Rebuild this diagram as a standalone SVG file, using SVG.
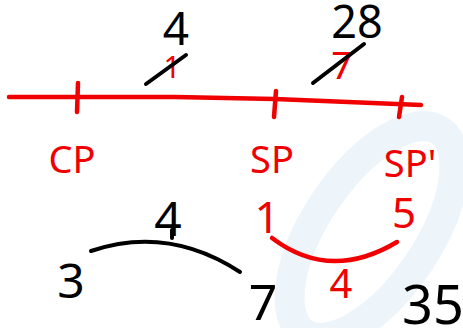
<svg xmlns="http://www.w3.org/2000/svg" width="463" height="328" viewBox="0 0 463 328">
<style>
.red{fill:#f00000;font-family:"Noto Sans","DejaVu Sans",sans-serif;}
.blk{fill:#000;font-family:"Noto Sans","DejaVu Sans",sans-serif;}
.rl{stroke:#f00000;stroke-width:4.5;fill:none;stroke-linecap:round;stroke-linejoin:round;}
.bl{stroke:#000;stroke-width:4;fill:none;stroke-linecap:round;stroke-linejoin:round;}
</style>
<rect width="463" height="328" fill="#fff"/>
<g id="watermark">
<ellipse cx="372" cy="232" rx="122" ry="56" transform="rotate(-56 372 232)" fill="none" stroke="#edf4fa" stroke-width="30"/>
</g>
<g id="numberline">
<path class="rl" d="M9 97 L175 97 L275 99 L421 105"/>
<path class="rl" d="M78 83 L77 112"/>
<path class="rl" d="M276 91 L274 117"/>
<path class="rl" d="M402 97 L399 117"/>
</g>
<g id="top-left">
<text class="red" x="172" y="78" font-size="30" text-anchor="middle">1</text>
<path class="bl" d="M146 84 L186 55"/>
<text class="blk" x="176" y="45" font-size="46" text-anchor="middle">4</text>
</g>
<g id="top-right">
<text class="red" x="342" y="79" font-size="38" text-anchor="middle">7</text>
<path class="bl" d="M313 83 L364 44"/>
<text class="blk" x="357" y="38" font-size="45" text-anchor="middle">28</text>
</g>
<g id="labels">
<text class="red" x="72" y="173" font-size="38" text-anchor="middle">CP</text>
<text class="red" x="272" y="173" font-size="38" text-anchor="middle">SP</text>
<text class="red" x="410" y="177" font-size="38" text-anchor="middle">SP'</text>
</g>
<g id="left-group">
<path class="bl" d="M91 251 Q168 225 240 272"/>
<path class="bl" d="M172 238 L172 230"/>
<text class="blk" x="168" y="236" font-size="48" text-anchor="middle">4</text>
<text class="blk" x="71" y="298" font-size="48" text-anchor="middle">3</text>
<text class="blk" x="263" y="320" font-size="50" text-anchor="middle">7</text>
</g>
<g id="right-group">
<text class="red" x="267" y="233" font-size="44" text-anchor="middle">1</text>
<text class="red" x="404" y="228" font-size="42" text-anchor="middle">5</text>
<path class="rl" d="M272 238 Q330 282 397 242"/>
<text class="red" x="341" y="298" font-size="40" text-anchor="middle">4</text>
</g>
<g id="total">
<text class="blk" x="433" y="324" font-size="54" text-anchor="middle">35</text>
</g>
</svg>
